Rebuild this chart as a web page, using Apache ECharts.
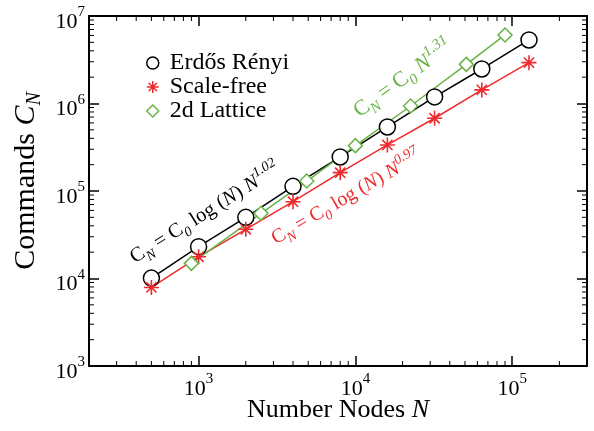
<!DOCTYPE html>
<html>
<head>
<meta charset="utf-8">
<script src="https://cdn.jsdelivr.net/npm/echarts@6/dist/echarts.min.js"></script>
<style>
html, body { margin: 0; background: #fff; }
#box { width: 594px; height: 431px; }
</style>
</head>
<body>
<div id="box"></div>
<script>
// data
var nodesER = [500, 1000, 2000, 4000, 8000, 16000, 32000, 64000, 128000];
var cmdsER = [1.01e4, 2.31e4, 5.0e4, 1.13e5, 2.45e5, 5.39e5, 1.19e6, 2.48e6, 5.32e6];
var nodesSF = [500, 1000, 2000, 4000, 8000, 16000, 32000, 64000, 128000];
var cmdsSF = [7.9e3, 1.77e4, 3.65e4, 7.55e4, 1.62e5, 3.36e5, 6.78e5, 1.43e6, 2.93e6];
var nodesLat = [900, 2500, 4900, 10000, 22500, 51000, 90000];
var cmdsLat = [1.49e4, 5.56e4, 1.30e5, 3.30e5, 9.36e5, 2.8e6, 6.07e6];

var names = ['Erdős Rényi', 'Scale-free', '2d Lattice'];

// axis ranges and minor tick values
var xMin = 200, xMax = 300000;
var yMin = 1e3, yMax = 1e7;
var xMinor = [300, 400, 500, 600, 700, 800, 900,
    2000, 3000, 4000, 5000, 6000, 7000, 8000, 9000,
    20000, 30000, 40000, 50000, 60000, 70000, 80000, 90000, 200000];
var yMinor = [2e3, 3e3, 4e3, 5e3, 6e3, 7e3, 8e3, 9e3,
    2e4, 3e4, 4e4, 5e4, 6e4, 7e4, 8e4, 9e4,
    2e5, 3e5, 4e5, 5e5, 6e5, 7e5, 8e5, 9e5,
    2e6, 3e6, 4e6, 5e6, 6e6, 7e6, 8e6, 9e6];

var FONT = 'Liberation Serif';
var RED = '#ef2a2d';
var GREEN = '#69b345';
var STAR = 'path://M5,0L5,10M0,5L10,5M1.6,1.6L8.4,8.4M1.6,8.4L8.4,1.6';

function zip(a, b) {
    return a.map(function (v, i) { return [v, b[i]]; });
}

function powLabel(v) {
    return '{b|10}{s|' + Math.round(Math.log10(v)) + '}';
}

var tickRich = {
    b: { fontFamily: FONT, fontSize: 22, lineHeight: 34, color: '#000' },
    s: { fontFamily: FONT, fontSize: 15, lineHeight: 15, verticalAlign: 'top', color: '#000' }
};

function frameAxis(pos, isX, showLabel) {
    var ax = {
        type: 'log',
        position: pos,
        min: isX ? xMin : yMin,
        max: isX ? xMax : yMax,
        logBase: 10,
        axisLine: { show: true, onZero: false, lineStyle: { color: '#000', width: 2 } },
        axisTick: { show: true, inside: true, length: 10, lineStyle: { color: '#000', width: 1.5 } },
        splitLine: { show: false },
        axisLabel: { show: false }
    };
    if (showLabel) {
        ax.axisLabel = {
            show: true,
            formatter: powLabel,
            rich: tickRich,
            margin: isX ? 6 : 4,
            showMinLabel: !isX,
            showMaxLabel: !isX,
            padding: isX ? 0 : [12, 0, 0, 0]
        };
    }
    return ax;
}

// minor ticks on all four sides, placed through the axes
function minorX(params, api) {
    var b = api.coord([api.value(0), yMin]);
    var t = api.coord([api.value(0), yMax]);
    var st = { stroke: '#000', lineWidth: 1 };
    return {
        type: 'group', children: [
            { type: 'line', shape: { x1: b[0], y1: b[1], x2: b[0], y2: b[1] - 5 }, style: st },
            { type: 'line', shape: { x1: t[0], y1: t[1], x2: t[0], y2: t[1] + 5 }, style: st }
        ]
    };
}
function minorY(params, api) {
    var l = api.coord([xMin, api.value(1)]);
    var r = api.coord([xMax, api.value(1)]);
    var st = { stroke: '#000', lineWidth: 1 };
    return {
        type: 'group', children: [
            { type: 'line', shape: { x1: l[0], y1: l[1], x2: l[0] + 5, y2: l[1] }, style: st },
            { type: 'line', shape: { x1: r[0], y1: r[1], x2: r[0] - 5, y2: r[1] }, style: st }
        ]
    };
}

function noteRich(col, size) {
    var s = Math.round(size * 0.68);
    return {
        c: { fontFamily: FONT, fontSize: size, lineHeight: size + 8, color: col },
        i: { fontFamily: FONT, fontSize: size, lineHeight: size + 8, fontStyle: 'italic', color: col },
        sub: { fontFamily: FONT, fontSize: s, fontStyle: 'italic', verticalAlign: 'bottom', color: col },
        sup: { fontFamily: FONT, fontSize: s, fontStyle: 'italic', verticalAlign: 'top', color: col }
    };
}

function note(x, y, deg, size, text, col) {
    return {
        type: 'text', x: x, y: y, rotation: deg * Math.PI / 180, z: 100,
        style: { text: text, rich: noteRich(col, size), align: 'left', verticalAlign: 'middle', fill: col }
    };
}

var myChart = echarts.init(document.getElementById('box'));
var option = {
    animation: false,
    backgroundColor: '#fff',
    grid: { left: 89, right: 7, top: 16, bottom: 65, containLabel: false },
    xAxis: [frameAxis('bottom', true, true), frameAxis('top', true, false)],
    yAxis: [frameAxis('left', false, true), frameAxis('right', false, false)],
    legend: {
        orient: 'vertical',
        left: 141,
        top: 46,
        itemWidth: 12,
        itemHeight: 12,
        itemGap: 0,
        textStyle: { fontFamily: FONT, fontSize: 24, lineHeight: 21.5, color: '#000', padding: [0, 0, 0, 6] },
        data: [
            { name: names[0], icon: 'circle', itemStyle: { color: '#fff', borderColor: '#000', borderWidth: 1.5 } },
            { name: names[1], icon: STAR, itemStyle: { color: RED, borderColor: RED, borderWidth: 1.5 } },
            { name: names[2], icon: 'diamond', itemStyle: { color: '#fff', borderColor: GREEN, borderWidth: 1.5 } }
        ]
    },
    graphic: [
        {
            type: 'text', x: 26, y: 181, rotation: Math.PI / 2,
            style: {
                text: '{a|Commands }{c|C}{n|N}', align: 'center', verticalAlign: 'middle',
                rich: {
                    a: { fontFamily: FONT, fontSize: 30, lineHeight: 38, color: '#000' },
                    c: { fontFamily: FONT, fontSize: 30, lineHeight: 38, fontStyle: 'italic', color: '#000' },
                    n: { fontFamily: FONT, fontSize: 20, fontStyle: 'italic', verticalAlign: 'bottom', color: '#000' }
                }
            }
        },
        {
            type: 'text', x: 338, y: 410,
            style: {
                text: '{a|Number Nodes }{i|N}', align: 'center', verticalAlign: 'middle',
                rich: {
                    a: { fontFamily: FONT, fontSize: 26, color: '#000' },
                    i: { fontFamily: FONT, fontSize: 26, fontStyle: 'italic', color: '#000' }
                }
            }
        },
        note(132, 259, 32, 20.5, '{c|C}{sub|N}{c| = C}{sub|0}{c| log (}{i|N}{c|) }{i|N}{sup|1.02}', '#000'),
        note(356, 113, 36, 22, '{c|C}{sub|N}{c| = C}{sub|0}{c| }{i|N}{sup|1.31}', GREEN),
        note(273, 240, 30, 20, '{c|C}{sub|N}{c| = C}{sub|0}{c| log (}{i|N}{c|) }{i|N}{sup|0.97}', RED)
    ],
    series: [
        {
            name: names[0], type: 'line', data: zip(nodesER, cmdsER),
            symbol: 'circle', symbolSize: 16,
            lineStyle: { color: '#000', width: 1.5 },
            itemStyle: { color: '#fff', borderColor: '#000', borderWidth: 1.5 }
        },
        {
            name: names[1], type: 'line', data: zip(nodesSF, cmdsSF),
            symbol: STAR, symbolSize: 15,
            lineStyle: { color: RED, width: 1.5 },
            itemStyle: { color: RED, borderColor: RED, borderWidth: 1.6 }
        },
        {
            name: names[2], type: 'line', data: zip(nodesLat, cmdsLat),
            symbol: 'diamond', symbolSize: 14,
            lineStyle: { color: GREEN, width: 1.5 },
            itemStyle: { color: '#fff', borderColor: GREEN, borderWidth: 1.5 }
        },
        {
            type: 'custom', silent: true, clip: false, z: 10,
            data: xMinor.map(function (v) { return [v, yMin]; }),
            renderItem: minorX
        },
        {
            type: 'custom', silent: true, clip: false, z: 10,
            data: yMinor.map(function (v) { return [xMin, v]; }),
            renderItem: minorY
        }
    ]
};
myChart.setOption(option);
</script>
</body>
</html>
